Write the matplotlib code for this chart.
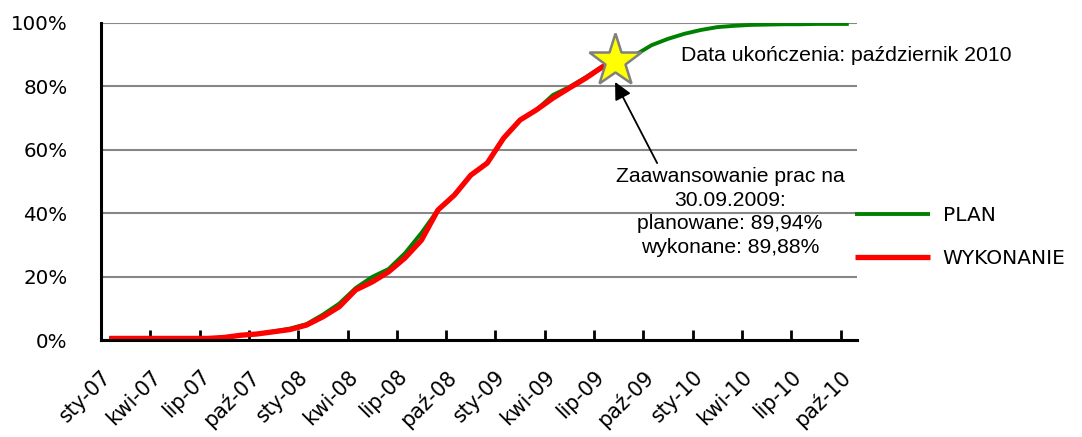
import numpy as np
import matplotlib
matplotlib.use('Agg')
import matplotlib.pyplot as plt
import matplotlib.transforms as mtransforms

# ---------------- data ----------------
month_labels = ['sty-07', 'kwi-07', 'lip-07', 'paź-07',
                'sty-08', 'kwi-08', 'lip-08', 'paź-08',
                'sty-09', 'kwi-09', 'lip-09', 'paź-09',
                'sty-10', 'kwi-10', 'lip-10', 'paź-10']
n_months = 46  # sty-07 .. paź-10

# cumulative progress in %
plan = [0.5, 0.5, 0.5, 0.5, 0.5, 0.5, 0.5, 0.8, 1.5, 1.9,
        2.7, 3.6, 5.0, 8.0, 11.5, 16.4, 19.9, 22.4, 27.4, 33.8,
        41.0, 45.7, 52.0, 55.8, 63.7, 69.4, 72.6, 77.3, 79.8, 82.9,
        86.3, 88.5, 89.9, 93.0, 95.0, 96.6, 97.8, 98.7, 99.1, 99.4,
        99.5, 99.6, 99.6, 99.7, 99.7, 99.7]
wykonanie = [0.5, 0.5, 0.5, 0.5, 0.5, 0.5, 0.5, 0.8, 1.5, 1.9,
             2.6, 3.3, 4.7, 7.3, 10.5, 15.8, 18.3, 21.5, 25.9, 31.5,
             41.0, 45.7, 52.0, 55.8, 63.7, 69.4, 72.6, 76.3, 79.5, 82.6,
             86.1, 88.0]

note_text = 'Zaawansowanie prac na\n30.09.2009:\nplanowane: 89,94%\nwykonane: 89,88%'
end_text = 'Data ukończenia: październik 2010'
##########################################

fig = plt.figure(figsize=(10.82, 4.37), dpi=100)
ax = fig.add_axes([101 / 1082, 1 - 340 / 437, (857 - 101) / 1082, (340 - 23) / 437])

x_plan = np.arange(len(plan))
x_wyk = np.arange(len(wykonanie))
plan_frac = np.array(plan) / 100
wyk_frac = np.array(wykonanie) / 100

ax.plot(x_plan, plan_frac, color='#008000', lw=2.8, label='PLAN', zorder=3,
        solid_capstyle='butt')
ax.plot(x_wyk, wyk_frac, color='#FF0000', lw=3.8, label='WYKONANIE', zorder=4,
        solid_capstyle='butt')

# star at the last reported point
ax.plot(x_wyk[-1] - 0.2, wyk_frac[-1], marker='*', ms=40, mfc='#FFFF00', mec='#7f7f7f',
        mew=1.8, zorder=6, ls='none')

ax.set_xlim(-0.5, n_months - 0.5)
ax.set_ylim(0, 1.0)

# grid
ax.set_yticks(np.arange(0, 1.01, 0.2))
ax.set_yticklabels([f'{int(round(v * 100))}%' for v in np.arange(0, 1.01, 0.2)])
ax.yaxis.grid(True, color='#878787', lw=1.5)
ax.set_axisbelow(True)

# category axis: labels every quarter, tick marks between categories
ax.set_xticks(np.arange(0, n_months, 3))
ax.set_xticklabels(month_labels, rotation=45, ha='right', va='top')
ax.set_xticks(np.arange(2.5, n_months - 1, 3), minor=True)
ax.tick_params(axis='x', which='major', length=0, pad=19, labelsize=14.8)
ax.tick_params(axis='x', which='minor', direction='in', length=7, width=2, color='black')
ax.tick_params(axis='y', length=0, pad=24, labelsize=14.3)

# nudge the rotated labels a little to the right
shift = mtransforms.ScaledTranslation(6 / 100, 0, fig.dpi_scale_trans)
for lbl in ax.get_xticklabels():
    lbl.set_transform(lbl.get_transform() + shift)

for side in ['top', 'right']:
    ax.spines[side].set_visible(False)
for side in ['left', 'bottom']:
    ax.spines[side].set_linewidth(2.2)
    ax.spines[side].set_color('black')
    ax.spines[side].set_zorder(5)

# annotations
ax.annotate('', xy=(30.78, 0.814), xytext=(33.34, 0.558),
            arrowprops=dict(arrowstyle='-|>', color='black', lw=1.3,
                            mutation_scale=26, shrinkA=0, shrinkB=0), zorder=7)
ax.text(37.78, 0.404, note_text, ha='center', va='center', multialignment='center',
        fontsize=15.2, family='Liberation Sans', linespacing=1.32)
ax.text(34.8, 0.896, end_text, ha='left', va='center',
        fontsize=15.3, family='Liberation Sans')

ax.legend(loc='upper left', bbox_to_anchor=(855 / 1082, 1 - 206 / 437),
          bbox_transform=fig.transFigure, frameon=False, borderpad=0,
          borderaxespad=0, handlelength=3.7, handletextpad=0.65,
          labelspacing=1.2, fontsize=14.5)

fig.savefig('out.png', dpi=100)
